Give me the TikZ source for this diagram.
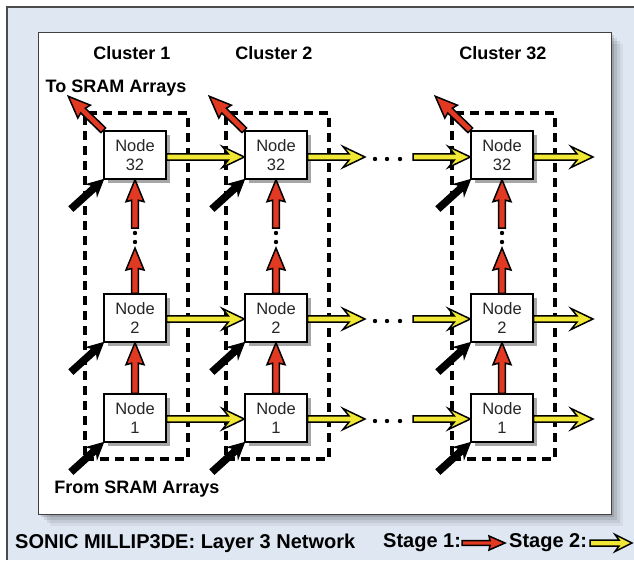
\documentclass[tikz,border=0pt]{standalone}
\usepackage{fontspec}
\setmainfont{Liberation Sans}
\usetikzlibrary{calc,shadows}
\definecolor{panelblue}{HTML}{DFE7F3}
\definecolor{arrred}{HTML}{E23A22}
\definecolor{arryel}{HTML}{F0E834}
\tikzset{
  nodebox/.style={draw=black, line width=1.4pt, fill=white, minimum width=62pt, minimum height=48pt,
    inner sep=0pt, align=center, font=\fontsize{16.5}{19}\selectfont, text=black!85,
    drop shadow={shadow xshift=4pt, shadow yshift=-4pt, fill=black, opacity=.35}},
  clusterbox/.style={draw=black, line width=3.2pt, dash pattern=on 9pt off 6pt, minimum width=103pt, minimum height=346pt, inner sep=0pt},
  title/.style={font=\bfseries\fontsize{18}{20}\selectfont, inner sep=0pt},
  caption/.style={font=\bfseries\fontsize{20}{22}\selectfont, inner sep=0pt},
  yelfill/.style={fill=arryel, draw=black, line width=1.5pt, line join=miter},
  redfill/.style={fill=arrred, draw=black, line width=1.5pt, line join=miter},
  blkfill/.style={fill=black, draw=black, line width=1.2pt, line join=miter},
  dotmark/.style={fill=black, circle, inner sep=0pt, minimum size=4.4pt}
}
% #1 style, #2 from, #3 to, #4 half shaft, #5 half head, #6 head length, #7 barb sweep
\newcommand{\blockarrow}[7]{%
  \path (#2) coordinate (baS) (#3) coordinate (baE);
  \path let \p1=($(baE)-(baS)$), \n1={atan2(\y1,\x1)}, \n2={veclen(\x1,\y1)} in
    \pgfextra{\xdef\baang{\n1}\xdef\balen{\n2}};
  \begin{scope}[shift={(baS)}, rotate=\baang]
    \filldraw[#1] (0,-#4) -- (\balen-#6+#7,-#4) -- (\balen-#6,-#5) -- (\balen,0)
      -- (\balen-#6,#5) -- (\balen-#6+#7,#4) -- (0,#4) -- cycle;
  \end{scope}}
\newcommand{\yelarrow}[2]{\blockarrow{yelfill}{#1}{#2}{3.1}{10.5}{22}{6}}
\newcommand{\redarrow}[2]{\blockarrow{redfill}{#1}{#2}{3.3}{9}{22}{1.5}}
\newcommand{\blkarrow}[2]{\blockarrow{blkfill}{#1}{#2}{3.2}{7.5}{15}{3}}
\begin{document}
\begin{tikzpicture}[x=1pt, y=-1pt]
\useasboundingbox (0,0) rectangle (634,560);
% outer panel
\fill[panelblue] (7,7) rectangle (634,560);
\draw[black!70, line width=1.3pt] (634,7) -- (7,7) -- (7,560);
% inner panel shadow
\foreach \s/\o in {12/0.05, 9/0.07, 6/0.09, 3/0.12}{
  \fill[black, opacity=\o] (38+\s,32+\s) rectangle (611+\s,514+\s);
}
\fill[white] (38,32) rectangle (611,514);
\draw[black!75, line width=1pt] (38,32) rectangle (611,514);

% cluster boxes
\foreach \cl/\x in {1/135, 2/276, 32/502}{
  \node[clusterbox] (box\cl) at (\x+1.5,286) {};
}
% nodes
\foreach \cl/\x in {1/135, 2/276, 32/502}{
  \foreach \r/\y/\lab in {a/155/32, b/318/2, c/418/1}{
    \node[nodebox] (n\cl\r) at (\x,\y) {Node\\\lab};
  }
}
% titles
\node[title] (t1) at (132,53) {Cluster 1};
\node[title] (t2) at (274,53) {Cluster 2};
\node[title] (t32) at (503,53) {Cluster 32};
\node[title] (tosram) at (116,88) {To SRAM Arrays};
\node[title] (fromsram) at (137,489) {From SRAM Arrays};

% per-cluster arrows
\foreach \cl/\x in {1/135, 2/276, 32/502}{
  % red vertical
  \redarrow{n\cl c.north}{n\cl b.south}
  \coordinate (up\cl) at (\x,248);
  \coordinate (dn\cl) at (\x,228);
  \redarrow{n\cl b.north}{up\cl}
  \redarrow{dn\cl}{n\cl a.south}
  \node[dotmark] (vd\cl a) at (\x,233) {};
  \node[dotmark] (vd\cl b) at (\x,242) {};
  % red diagonal to SRAM
  \coordinate (out\cl) at ($(n\cl a.north west)+(-35,-34)$);
  \redarrow{n\cl a.north west}{out\cl}
  % black diagonal from SRAM
  \foreach \r in {a,b,c}{
    \coordinate (in\cl\r) at ($(n\cl\r.south west)+(-32,29)$);
    \blkarrow{in\cl\r}{n\cl\r.south west}
  }
}
% horizontal yellow arrows
\foreach \r/\y in {a/157, b/319, c/419}{
  \coordinate (m\r) at (365,\y);
  \coordinate (k\r) at (413,\y);
  \coordinate (e\r) at (593,\y);
  \yelarrow{n1\r.east |- m\r}{n2\r.west |- m\r}
  \yelarrow{n2\r.east |- m\r}{m\r}
  \node[dotmark] (hd\r1) at (375,\y+2) {};
  \node[dotmark] (hd\r2) at (387,\y+2) {};
  \node[dotmark] (hd\r3) at (400,\y+2) {};
  \yelarrow{k\r}{n32\r.west |- m\r}
  \yelarrow{n32\r.east |- m\r}{e\r}
}

% caption and legend
\node[caption, anchor=west] (cap) at (15,543) {SONIC MILLIP3DE: Layer 3 Network};
\node[caption, anchor=west] (st1) at (383,543) {Stage 1:};
\coordinate (l1a) at (462,543);
\coordinate (l1b) at (505,543);
\blockarrow{redfill}{l1a}{l1b}{2.4}{7}{16}{1}
\node[caption, anchor=west] (st2) at (509,543) {Stage 2:};
\coordinate (l2a) at (590,543);
\coordinate (l2b) at (632,543);
\blockarrow{yelfill}{l2a}{l2b}{3}{8.5}{17}{4}
\end{tikzpicture}
\end{document}
